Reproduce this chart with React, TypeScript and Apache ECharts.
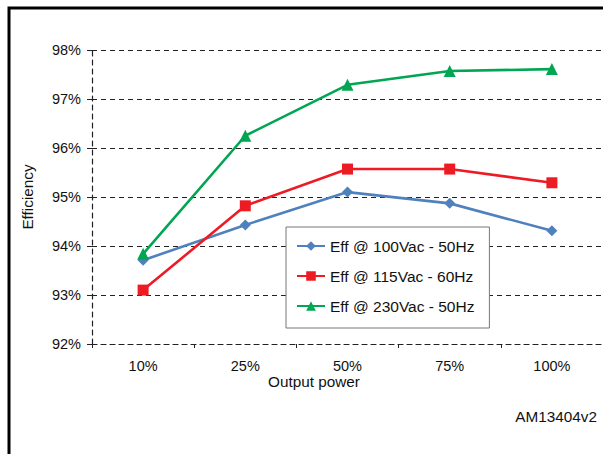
import React, { useEffect, useRef } from "react";
import * as echarts from "echarts";

const categories = ["10%", "25%", "50%", "75%", "100%"];
const eff100 = [93.71, 94.43, 95.1, 94.87, 94.31];
const eff115 = [93.1, 94.82, 95.57, 95.57, 95.29];
const eff230 = [93.84, 96.25, 97.29, 97.57, 97.61];
const seriesNames = ["Eff @ 100Vac - 50Hz", "Eff @ 115Vac - 60Hz", "Eff @ 230Vac - 50Hz"];
const FONT = "Liberation Sans, Arial, sans-serif";

export default function App() {
  const ref = useRef<HTMLDivElement>(null);
  useEffect(() => {
    if (!ref.current) return;
    const chart = echarts.init(ref.current, null, { renderer: "svg" });
    const dash = [5, 4];
    const mk = (name: string, data: number[], color: string, symbol: string, size: number) => ({
      name,
      type: "line",
      data,
      symbol,
      symbolSize: size,
      itemStyle: { color },
      lineStyle: { color, width: 2.6 },
    });
    chart.setOption({
      animation: false,
      textStyle: { fontFamily: FONT },
      grid: { left: 92, right: 0, top: 50, bottom: 110 },
      xAxis: {
        type: "category",
        data: categories,
        boundaryGap: true,
        axisLine: { show: true, lineStyle: { color: "#222", type: dash, width: 1.2 } },
        axisTick: { show: true, length: 4, lineStyle: { color: "#222" } },
        axisLabel: { color: "#111", fontSize: 14.5, margin: 14, fontFamily: FONT },
        splitLine: { show: false },
      },
      yAxis: [
        {
          type: "value",
          min: 92,
          max: 98,
          interval: 1,
          name: "Efficiency",
          nameLocation: "middle",
          nameGap: 57,
          nameTextStyle: { color: "#111", fontSize: 15.3, fontFamily: FONT },
          axisLine: { show: true, lineStyle: { color: "#222", type: dash, width: 1.2 } },
          axisTick: { show: true, length: 5, lineStyle: { color: "#222" } },
          axisLabel: { color: "#111", fontSize: 14.5, margin: 11, formatter: (v: number) => v + "%", fontFamily: FONT },
          splitLine: { show: true, lineStyle: { color: "#222", type: dash, width: 1.2 } },
        },
        {
          type: "value",
          min: 92,
          max: 98,
          interval: 1,
          position: "left",
          axisLine: { show: false },
          axisTick: { show: true, inside: true, length: 5, lineStyle: { color: "#222" } },
          axisLabel: { show: false },
          splitLine: { show: false },
        },
      ],
      legend: {
        orient: "vertical",
        left: 286,
        top: 227,
        data: seriesNames,
        itemWidth: 28,
        itemHeight: 12,
        itemGap: 14,
        padding: [11, 15, 14, 10],
        backgroundColor: "#fff",
        borderColor: "#777",
        borderWidth: 1,
        textStyle: { color: "#111", fontSize: 15.5, fontFamily: FONT },
      },
      graphic: [
        {
          type: "text",
          x: 314,
          y: 381,
          style: { text: "Output power", fill: "#111", font: "15.3px " + FONT, textAlign: "center", textVerticalAlign: "middle" },
        },
        {
          type: "text",
          x: 597,
          y: 416,
          style: { text: "AM13404v2", fill: "#111", font: "15.3px " + FONT, textAlign: "right", textVerticalAlign: "middle" },
        },
        {
          type: "rect",
          shape: { x: 9, y: 8, width: 700, height: 600 },
          style: { fill: "none", stroke: "#000", lineWidth: 3 },
          silent: true,
        },
      ],
      series: [
        mk(seriesNames[0], eff100, "#4F81BD", "diamond", 11),
        mk(seriesNames[1], eff115, "#ED1C24", "rect", 11),
        mk(seriesNames[2], eff230, "#00A651", "triangle", 12),
      ],
    });
    return () => chart.dispose();
  }, []);
  return <div ref={ref} style={{ position: "fixed", left: 0, top: 0, width: 603, height: 454, background: "#fff" }} />;
}
